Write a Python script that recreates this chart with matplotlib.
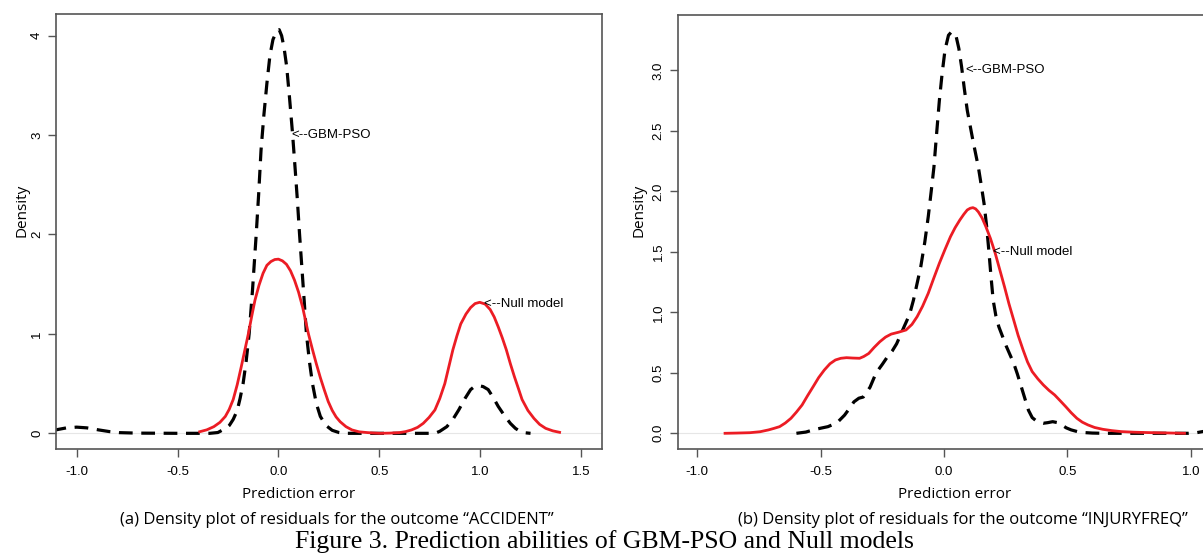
import matplotlib
matplotlib.use("Agg")
import matplotlib.pyplot as plt
from matplotlib import font_manager

# pick a condensed sans for the axis titles / captions if we have one
_names = {f.name for f in font_manager.fontManager.ttflist}
NARROW = next((n for n in ["Liberation Sans Narrow", "Open Sans", "Lato"] if n in _names), "DejaVu Sans")
SANS = "Liberation Sans"
SERIF = "Liberation Serif"

# --- (a) ACCIDENT: densities ---
acc_gbm_x = [-1.12, -1.1, -1.05, -1.0, -0.95, -0.89, -0.84, -0.79, -0.7, -0.5, -0.34, -0.3, -0.28, -0.26,
             -0.243, -0.224, -0.204, -0.19, -0.175, -0.16, -0.145, -0.128, -0.11, -0.098, -0.086, -0.072,
             -0.057, -0.042, -0.027, -0.008, 0.004, 0.016, 0.028, 0.041, 0.055, 0.07, 0.082, 0.094, 0.105,
             0.116, 0.128, 0.139, 0.154, 0.169, 0.188, 0.208, 0.235, 0.267, 0.3, 0.325, 0.5, 0.776, 0.8,
             0.835, 0.865, 0.894, 0.925, 0.953, 0.975, 0.992, 1.015, 1.04, 1.065, 1.09, 1.12, 1.15, 1.175,
             1.2, 1.225, 1.25]
acc_gbm_y = [0.03, 0.036, 0.055, 0.062, 0.055, 0.034, 0.018, 0.007, 0.002, 0.0, 0.0, 0.008, 0.03, 0.05,
             0.08, 0.14, 0.23, 0.35, 0.5, 0.72, 1.0, 1.45, 2.0, 2.4, 2.85, 3.2, 3.52, 3.8, 3.96, 4.05, 4.06,
             4.0, 3.88, 3.69, 3.38, 3.02, 2.69, 2.35, 2.0, 1.68, 1.33, 1.0, 0.72, 0.5, 0.3, 0.17, 0.08,
             0.03, 0.008, 0.0, 0.0, 0.0, 0.02, 0.067, 0.14, 0.235, 0.35, 0.44, 0.475, 0.48, 0.47, 0.44,
             0.36, 0.27, 0.18, 0.1, 0.05, 0.017, 0.005, 0.0]

acc_null_x = [-0.39, -0.355, -0.32, -0.29, -0.263, -0.244, -0.224, -0.204, -0.184, -0.166, -0.149, -0.132,
              -0.116, -0.096, -0.076, -0.057, -0.037, -0.018, 0.0, 0.02, 0.04, 0.06, 0.08, 0.1, 0.12, 0.135,
              0.149, 0.168, 0.188, 0.208, 0.227, 0.247, 0.267, 0.286, 0.306, 0.335, 0.365, 0.4, 0.443, 0.5,
              0.55, 0.6, 0.63, 0.66, 0.69, 0.718, 0.747, 0.776, 0.8, 0.825, 0.845, 0.865, 0.885, 0.904, 0.93,
              0.953, 0.975, 0.998, 1.025, 1.05, 1.07, 1.09, 1.11, 1.13, 1.15, 1.17, 1.19, 1.208, 1.237, 1.267,
              1.295, 1.325, 1.36, 1.394]
acc_null_y = [0.016, 0.035, 0.067, 0.11, 0.17, 0.24, 0.34, 0.49, 0.67, 0.84, 1.0, 1.18, 1.34, 1.49, 1.61,
              1.69, 1.728, 1.748, 1.752, 1.735, 1.7, 1.635, 1.54, 1.42, 1.27, 1.13, 1.0, 0.85, 0.7, 0.56, 0.44,
              0.32, 0.23, 0.165, 0.117, 0.067, 0.034, 0.015, 0.007, 0.0, 0.002, 0.007, 0.017, 0.034, 0.06,
              0.1, 0.16, 0.235, 0.35, 0.5, 0.67, 0.84, 0.98, 1.1, 1.2, 1.265, 1.305, 1.318, 1.3, 1.245, 1.17,
              1.07, 0.96, 0.84, 0.7, 0.57, 0.45, 0.34, 0.23, 0.15, 0.09, 0.05, 0.025, 0.01]

# --- (b) INJURYFREQ ---
inj_gbm_x = [-0.598, -0.56, -0.53, -0.5, -0.47, -0.433, -0.403, -0.385, -0.365, -0.345, -0.327, -0.3,
             -0.275, -0.25, -0.23, -0.21, -0.192, -0.162, -0.14, -0.124, -0.094, -0.078, -0.064, -0.052,
             -0.041, -0.03, -0.019, -0.008, 0.004, 0.018, 0.031, 0.049, 0.06, 0.071, 0.082, 0.094, 0.105,
             0.117, 0.128, 0.139, 0.15, 0.162, 0.172, 0.181, 0.19, 0.199, 0.21, 0.222, 0.237, 0.252, 0.267,
             0.282, 0.297, 0.312, 0.327, 0.342, 0.357, 0.372, 0.387, 0.402, 0.42, 0.44, 0.46, 0.477, 0.495,
             0.515, 0.54, 0.568, 0.6, 0.643, 0.8, 0.99, 1.02, 1.047, 1.08, 1.12]
inj_gbm_y = [0.0, 0.01, 0.028, 0.042, 0.055, 0.088, 0.15, 0.2, 0.26, 0.29, 0.3, 0.38, 0.5, 0.57, 0.63,
             0.68, 0.74, 0.88, 0.98, 1.1, 1.38, 1.58, 1.79, 2.0, 2.2, 2.48, 2.75, 2.97, 3.17, 3.29, 3.32,
             3.28, 3.18, 3.03, 2.85, 2.67, 2.55, 2.42, 2.31, 2.2, 2.06, 1.9, 1.72, 1.52, 1.3, 1.1, 0.97,
             0.88, 0.8, 0.72, 0.65, 0.58, 0.49, 0.39, 0.29, 0.19, 0.13, 0.105, 0.09, 0.083, 0.088, 0.096,
             0.088, 0.069, 0.045, 0.028, 0.014, 0.006, 0.002, 0.0, 0.0, 0.0, 0.004, 0.014, 0.025, 0.04]

inj_null_x = [-0.887, -0.84, -0.786, -0.745, -0.711, -0.69, -0.666, -0.643, -0.62, -0.598, -0.575, -0.553,
              -0.53, -0.508, -0.485, -0.462, -0.44, -0.418, -0.395, -0.37, -0.342, -0.325, -0.305, -0.283,
              -0.26, -0.237, -0.214, -0.185, -0.154, -0.13, -0.109, -0.087, -0.064, -0.042, -0.019, 0.004,
              0.026, 0.045, 0.064, 0.08, 0.094, 0.106, 0.117, 0.128, 0.139, 0.154, 0.169, 0.188, 0.207,
              0.226, 0.245, 0.263, 0.282, 0.3, 0.32, 0.338, 0.357, 0.38, 0.402, 0.425, 0.448, 0.47, 0.493,
              0.515, 0.538, 0.56, 0.583, 0.61, 0.643, 0.68, 0.718, 0.77, 0.824, 0.9, 0.974]
inj_null_y = [0.0, 0.002, 0.005, 0.013, 0.028, 0.04, 0.055, 0.085, 0.124, 0.175, 0.234, 0.31, 0.386, 0.46,
              0.523, 0.575, 0.606, 0.62, 0.625, 0.622, 0.62, 0.635, 0.66, 0.71, 0.757, 0.795, 0.82, 0.835,
              0.854, 0.9, 0.964, 1.05, 1.157, 1.28, 1.405, 1.52, 1.625, 1.7, 1.763, 1.81, 1.846, 1.86, 1.865,
              1.855, 1.83, 1.78, 1.71, 1.61, 1.49, 1.35, 1.21, 1.07, 0.937, 0.81, 0.69, 0.59, 0.51, 0.45, 0.4,
              0.355, 0.317, 0.27, 0.22, 0.17, 0.124, 0.092, 0.069, 0.048, 0.033, 0.022, 0.014, 0.009,
              0.006, 0.003, 0.0]

acc_xticks = [-1.0, -0.5, 0.0, 0.5, 1.0, 1.5]
acc_yticks = [0, 1, 2, 3, 4]
inj_xticks = [-1.0, -0.5, 0.0, 0.5, 1.0]
inj_yticks = [0.0, 0.5, 1.0, 1.5, 2.0, 2.5, 3.0]

RED = "#ec1c24"
BOX = "#555555"

fig = plt.figure(figsize=(12.03, 5.56), dpi=100)


def density_panel(ax, gbm_x, gbm_y, null_x, null_y, xticks, yticks, ylabels):
    ax.axhline(0, color="#e6e6e6", lw=0.8, zorder=0)
    ax.plot(gbm_x, gbm_y, color="black", lw=2.3, dashes=(4.3, 2.7), solid_capstyle="butt")
    ax.plot(null_x, null_y, color=RED, lw=2.0)
    ax.spines[:].set_color(BOX)
    ax.spines[:].set_linewidth(1.2)
    ax.set_xticks(xticks)
    ax.set_xticklabels(["%.1f" % t for t in xticks], family=SANS, fontsize=9.5)
    ax.set_yticks(yticks)
    ax.set_yticklabels(ylabels, family=SANS, fontsize=9.5, rotation=90, va="center")
    ax.tick_params(direction="out", length=5.5, width=1.0, color=BOX)
    ax.tick_params(axis="x", pad=7)
    ax.tick_params(axis="y", pad=4)
    ax.set_xlabel("Prediction error", family=NARROW, fontsize=11)
    ax.set_ylabel("Density", family=NARROW, fontsize=11)


ax1 = fig.add_axes([0.0468, 0.1924, 0.4534, 0.7819])
density_panel(ax1, acc_gbm_x, acc_gbm_y, acc_null_x, acc_null_y,
              acc_xticks, acc_yticks, [str(t) for t in acc_yticks])
ax1.set_xlim(-1.101, 1.603)
ax1.set_ylim(-0.158, 4.215)
ax1.text(0.066, 3.0, "<--GBM-PSO", family=SANS, fontsize=9.5, va="center", ha="left")
ax1.text(1.02, 1.3, "<--Null model", family=SANS, fontsize=9.5, va="center", ha="left")
ax1.xaxis.set_label_coords(0.445, -0.087)
ax1.yaxis.set_label_coords(-0.05, 0.55)

ax2 = fig.add_axes([0.5633, 0.1924, 0.4513, 0.7812])
density_panel(ax2, inj_gbm_x, inj_gbm_y, inj_null_x, inj_null_y,
              inj_xticks, inj_yticks, ["%.1f" % t for t in inj_yticks])
ax2.set_xlim(-1.079, 1.12)
ax2.set_ylim(-0.13, 3.46)
ax2.text(0.085, 3.0, "<--GBM-PSO", family=SANS, fontsize=9.5, va="center", ha="left")
ax2.text(0.2, 1.5, "<--Null model", family=SANS, fontsize=9.5, va="center", ha="left")
ax2.xaxis.set_label_coords(0.51, -0.087)
ax2.yaxis.set_label_coords(-0.058, 0.55)

fig.text(0.2797, 0.065, "(a) Density plot of residuals for the outcome \u201cACCIDENT\u201d",
         family=NARROW, fontsize=12, ha="center", va="center")
fig.text(0.8, 0.065, "(b) Density plot of residuals for the outcome \u201cINJURYFREQ\u201d",
         family=NARROW, fontsize=12, ha="center", va="center")
fig.text(0.5027, 0.026, "Figure 3. Prediction abilities of GBM-PSO and Null models",
         family=SERIF, fontsize=18.5, ha="center", va="center")

fig.savefig("out.png", dpi=100)
